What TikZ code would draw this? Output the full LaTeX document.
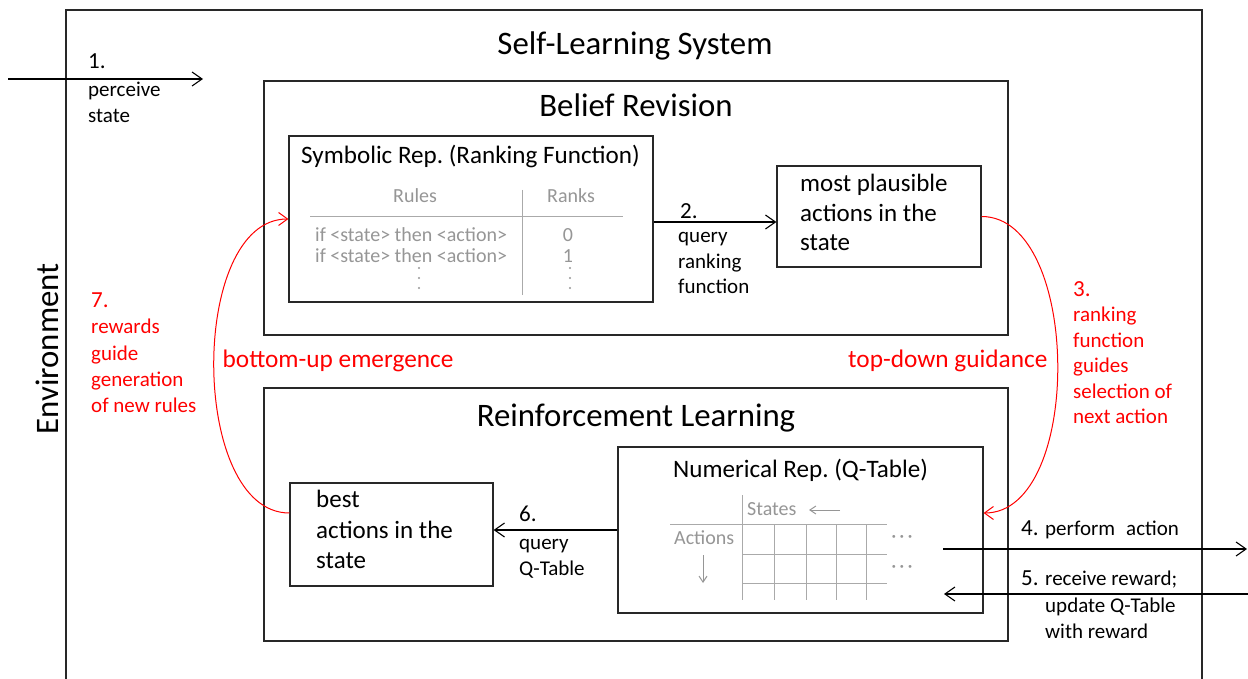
\documentclass[tikz,border=0pt]{standalone}
\usepackage{fontspec}
\setmainfont{Carlito}
\usetikzlibrary{arrows.meta}
\definecolor{tgray}{RGB}{150,150,150}
\definecolor{lgray}{RGB}{170,170,170}
\definecolor{myred}{RGB}{255,0,0}
\definecolor{lineblk}{RGB}{40,40,40}
\newcommand{\fsTitle}{\fontsize{32.8}{38}\selectfont}
\newcommand{\fsHead}{\fontsize{25.1}{30}\selectfont}
\newcommand{\fsBox}{\fontsize{25}{30}\selectfont}
\newcommand{\fsSmall}{\fontsize{21}{26}\selectfont}
\newcommand{\fsNum}{\fontsize{23}{28}\selectfont}
\newcommand{\fsRedBig}{\fontsize{25.3}{30}\selectfont}
\newcommand{\fsTab}{\fontsize{20}{24}\selectfont}
\frenchspacing
\begin{document}
\begin{tikzpicture}[x=1pt,y=-1pt,
  box/.style={draw=lineblk, line width=1.2pt, inner sep=0pt},
  txt/.style={inner sep=0pt, anchor=base west},
  ctxt/.style={inner sep=0pt, anchor=base},
  arr/.style={draw=black, line width=1.1pt, -{Straight Barb[length=10pt,width=14pt,line width=1.1pt]}},
  redarr/.style={draw=myred, line width=1pt, -{Straight Barb[length=9pt,width=13pt,line width=1pt]}},
  grayarr/.style={draw=tgray, line width=1pt, -{Straight Barb[length=6pt,width=8pt,line width=1pt]}},
  tabline/.style={draw=lgray, line width=1pt},
  dotc/.style={fill=tgray, draw=none, circle, inner sep=0pt, minimum size=2.4pt}
]
\useasboundingbox (0,0) rectangle (1248,679);
\fill[white] (0,0) rectangle (1248,679);

% outer frame
\draw[lineblk, line width=1.2pt] (66,700) -- (66,10) -- (1202,10) -- (1202,700);
\node[ctxt, font=\fsTitle] (tsys) at (635,55) {Self-Learning System};
\node[ctxt, font=\fsTitle, rotate=90] (tenv) at (58,349) {Environment};

% main boxes
\node[box, minimum width=744pt, minimum height=254pt] (br) at (636,208) {};
\node[box, minimum width=744pt, minimum height=253pt] (rl) at (636,514.5) {};
\node[ctxt, font=\fsTitle] (tbr) at (636,117) {Belief Revision};
\node[ctxt, font=\fsTitle] (trl) at (636,426) {Reinforcement Learning};

% inner boxes
\node[box, minimum width=364pt, minimum height=166pt] (sym) at (471,219) {};
\node[box, minimum width=204pt, minimum height=101pt] (plaus) at (879,216.5) {};
\node[box, minimum width=365pt, minimum height=166pt] (num) at (800.5,530) {};
\node[box, minimum width=203pt, minimum height=103pt] (best) at (391.5,534.5) {};

% symbolic box content
\node[txt, font=\fsHead] (tsym) at (301,164) {Symbolic Rep. (Ranking Function)};
\draw[tabline] (522,190) -- (522,295);
\draw[tabline] (310,217) -- (623,217);
\node[txt, font=\fsTab, text=tgray] (trules) at (393,203) {Rules};
\node[txt, font=\fsTab, text=tgray] (tranks) at (547,203) {Ranks};
\node[txt, font=\fsTab, text=tgray] (tif1) at (315,242) {if <state> then <action>};
\node[txt, font=\fsTab, text=tgray] (tif2) at (315,262) {if <state> then <action>};
\node[ctxt, font=\fsTab, text=tgray] (tr0) at (568,242) {0};
\node[ctxt, font=\fsTab, text=tgray] (tr1) at (568,262) {1};
\foreach \yy [count=\i] in {268,278,288}{
  \node[dotc] (dl\i) at (419,\yy) {};
  \node[dotc] (dr\i) at (570,\yy) {};
}

% plausible box
\node[txt, font=\fsBox] (tp1) at (800,192) {most plausible};
\node[txt, font=\fsBox] (tp2) at (800,222) {actions in the};
\node[txt, font=\fsBox] (tp3) at (800,251) {state};

% best box
\node[txt, font=\fsBox] (tb1) at (316,507) {best};
\node[txt, font=\fsBox] (tb2) at (316,538) {actions in the};
\node[txt, font=\fsBox] (tb3) at (316,568) {state};

% numerical box
\node[txt, font=\fsHead] (tnum) at (673,477) {Numerical Rep. (Q-Table)};
\draw[tabline] (742.7,495) -- (742.7,600);
\foreach \xx in {774.3,806,836.7,866.7}{\draw[tabline] (\xx,524) -- (\xx,600);}
\draw[tabline] (670,524) -- (887,524);
\draw[tabline] (743,554) -- (887,554);
\draw[tabline] (743,583) -- (887,583);
\node[txt, font=\fsTab, text=tgray] (tstates) at (747,515) {States};
\node[txt, font=\fsTab, text=tgray] (tactions) at (674,544) {Actions};
\coordinate (sa1) at (840,510); \coordinate (sa2) at (809,510);
\draw[grayarr] (sa1) -- (sa2);
\coordinate (aa1) at (703,555); \coordinate (aa2) at (703,583);
\draw[grayarr] (aa1) -- (aa2);
\node[inner sep=0pt, font=\fsTab, text=tgray] (td1) at (902,539) {·\hspace{3pt}·\hspace{3pt}·};
\node[inner sep=0pt, font=\fsTab, text=tgray] (td2) at (902,569) {·\hspace{3pt}·\hspace{3pt}·};

% arrow 1
\coordinate (a1s) at (8,79); \coordinate (a1e) at (203,79);
\draw[arr] (a1s) -- (a1e);
\node[txt, font=\fsNum] (l1) at (88,69) {1.};
\node[txt, font=\fsSmall] (l1a) at (88,97) {perceive};
\node[txt, font=\fsSmall] (l1b) at (88,123) {state};

% arrow 2
\coordinate (a2s) at ([yshift=-3pt]sym.east);
\draw[arr] (a2s) -- (a2s -| plaus.west);
\node[txt, font=\fsNum] (l2) at (680,219) {2.};
\node[txt, font=\fsSmall] (l2a) at (678,243) {query};
\node[txt, font=\fsSmall] (l2b) at (678,268.5) {ranking};
\node[txt, font=\fsSmall] (l2c) at (678,294) {function};

% arrow 6
\coordinate (a6s) at (num.west);
\draw[arr] (a6s) -- (a6s -| best.east);
\node[txt, font=\fsNum] (l6) at (519,521) {6.};
\node[txt, font=\fsSmall] (l6a) at (519,549) {query};
\node[txt, font=\fsSmall] (l6b) at (519,575) {Q-Table};

% arrows 4 and 5
\coordinate (a4s) at (943,549); \coordinate (a4e) at (1247,549);
\draw[arr] (a4s) -- (a4e);
\coordinate (a5s) at (1250,594); \coordinate (a5e) at (944,594);
\draw[arr] (a5s) -- (a5e);
\node[txt, font=\fsNum] (l4) at (1021,535) {4.};
\node[txt, font=\fsSmall] (l4a) at (1045,535) {perform\hspace{0.3em} action};
\node[txt, font=\fsNum] (l5) at (1021,585) {5.};
\node[txt, font=\fsSmall] (l5a) at (1045,585) {receive reward;};
\node[txt, font=\fsSmall] (l5b) at (1045,612) {update Q-Table};
\node[txt, font=\fsSmall] (l5c) at (1045,638) {with reward};

% red curves
\draw[redarr] ([yshift=21.5pt]best.west) .. controls +(-100,0) and +(-100,0) .. (sym.west);
\draw[redarr] (plaus.east) .. controls +(100,0) and +(100,0) .. ([yshift=17pt]num.east);
\node[txt, font=\fsRedBig, text=myred] (tbu) at (222.5,367) {bottom-up emergence};
\node[txt, font=\fsRedBig, text=myred] (ttd) at (848,367) {top-down guidance};

% red labels 7
\node[txt, font=\fsNum, text=myred] (l7) at (91,307) {7.};
\node[txt, font=\fsSmall, text=myred] (l7a) at (91,333) {rewards};
\node[txt, font=\fsSmall, text=myred] (l7b) at (91,360) {guide};
\node[txt, font=\fsSmall, text=myred] (l7c) at (91,386) {generation};
\node[txt, font=\fsSmall, text=myred] (l7d) at (91,412) {of new rules};

% red labels 3
\node[txt, font=\fsNum, text=myred] (l3) at (1073,296) {3.};
\node[txt, font=\fsSmall, text=myred] (l3a) at (1073,321) {ranking};
\node[txt, font=\fsSmall, text=myred] (l3b) at (1073,347) {function};
\node[txt, font=\fsSmall, text=myred] (l3c) at (1073,372.5) {guides};
\node[txt, font=\fsSmall, text=myred] (l3d) at (1073,398) {selection of};
\node[txt, font=\fsSmall, text=myred] (l3e) at (1073,423.5) {next action};
\end{tikzpicture}
\end{document}
